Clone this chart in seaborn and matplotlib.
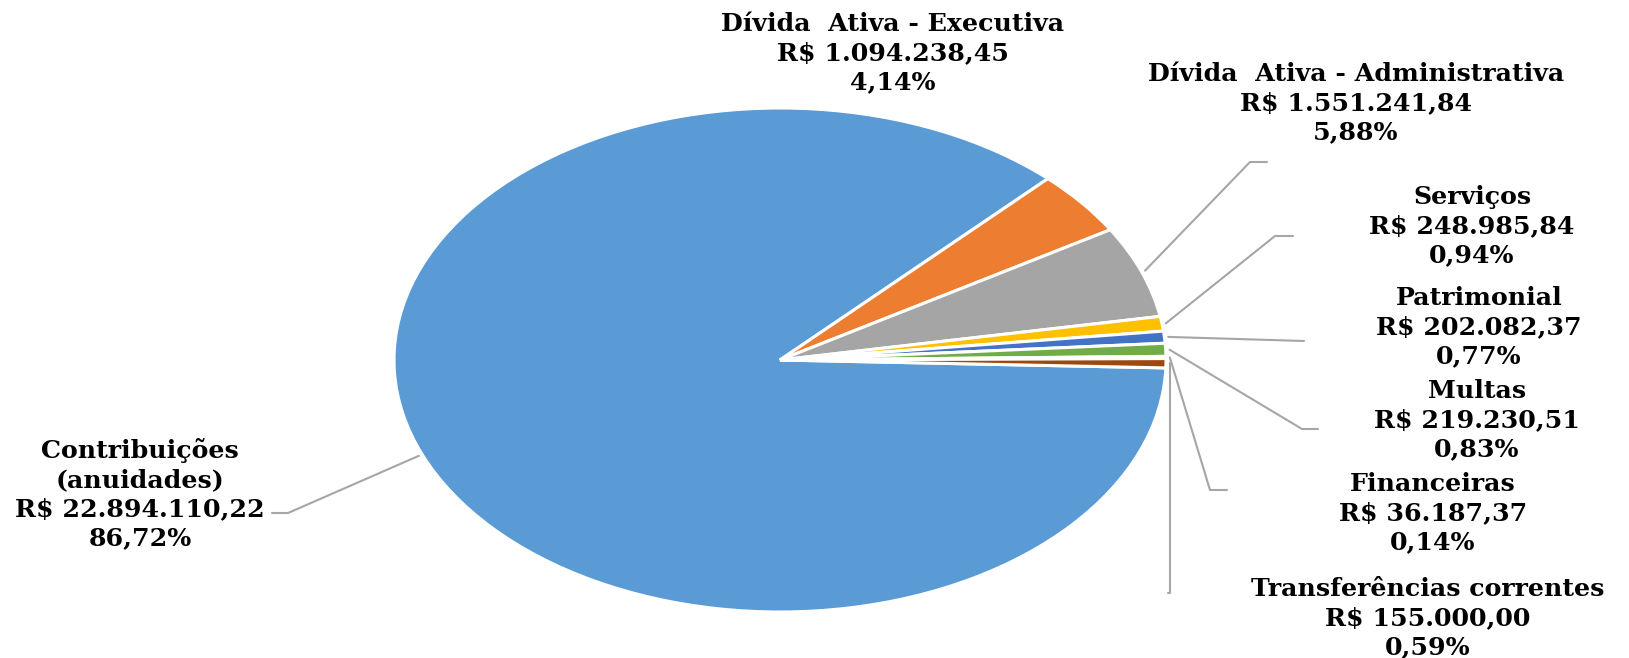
import numpy as np
import seaborn as sns
import matplotlib.pyplot as plt
from matplotlib.lines import Line2D

# data
categories = ['Contribuições\n(anuidades)', 'Dívida  Ativa - Executiva', 'Dívida  Ativa - Administrativa',
              'Serviços', 'Patrimonial', 'Multas', 'Financeiras', 'Transferências correntes']
valores = ['R$ 22.894.110,22', 'R$ 1.094.238,45', 'R$ 1.551.241,84', 'R$ 248.985,84',
           'R$ 202.082,37', 'R$ 219.230,51', 'R$ 36.187,37', 'R$ 155.000,00']
percentuais = [86.72, 4.14, 5.88, 0.94, 0.77, 0.83, 0.14, 0.59]
cores = ['#5B9BD5', '#ED7D31', '#A5A5A5', '#FFC000', '#4472C4', '#70AD47', '#255E91', '#9E480E']

W, H = 1629, 658

sns.set_theme(style='white')
plt.rcParams['font.family'] = ['DejaVu Serif']

fig = plt.figure(figsize=(W / 100, H / 100), dpi=100)
# elliptical pie: axes box is the bounding box of the ellipse
ax = fig.add_axes([394 / W, 1 - 612 / H, 772 / W, 504 / H])
wedges, _ = ax.pie(percentuais, colors=cores, startangle=-1.8, counterclock=False,
                   radius=1, wedgeprops=dict(edgecolor='white', linewidth=2.2))
ax.set_aspect('auto')
ax.set_xlim(-1, 1)
ax.set_ylim(-1, 1)
ax.axis('off')

# label blocks (center x, center y in pixels from top)
label_pos = [(140, 494), (893, 53), (1356, 103), (1472, 226),
             (1479, 327), (1477, 420), (1433, 513), (1428, 618)]
# leader lines: (kink point, end point) in pixels, None = no leader
leaders = [((288, 513), (272, 513)), None, ((1250, 162), (1267, 162)),
           ((1275, 236), (1293, 236)), ((1304, 341), (1304, 341)),
           ((1302, 429), (1318, 429)), ((1210, 490), (1227, 490)),
           (None, (1168, 593))]

for i, w in enumerate(wedges):
    pct = f'{percentuais[i]:.2f}'.replace('.', ',') + '%'
    txt = f'{categories[i]}\n{valores[i]}\n{pct}'
    x, y = label_pos[i]
    fig.text(x / W, 1 - y / H, txt, ha='center', va='center', fontsize=18.2,
             fontweight='bold', linespacing=1.28, color='black')

    if leaders[i] is None:
        continue
    mid = np.deg2rad((w.theta1 + w.theta2) / 2)
    px, py = fig.transFigure.inverted().transform(
        ax.transData.transform((1.01 * np.cos(mid), 1.01 * np.sin(mid))))
    kink, end = leaders[i]
    if kink is None:
        kink = (px * W, end[1])
    xs = [px, kink[0] / W, end[0] / W]
    ys = [py, 1 - kink[1] / H, 1 - end[1] / H]
    fig.add_artist(Line2D(xs, ys, transform=fig.transFigure, color='#A6A6A6', linewidth=1.5))

fig.savefig('out.png', dpi=100, facecolor='white')
